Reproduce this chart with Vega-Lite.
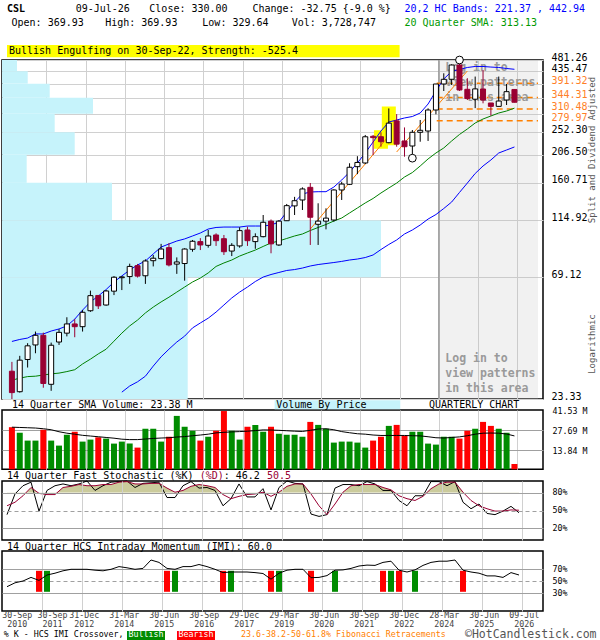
{
  "$schema": "https://vega.github.io/schema/vega-lite/v6.json",
  "background": "#ffffff",
  "padding": {"left": 0, "top": 3, "right": 0, "bottom": 0},
  "bounds": "flush",
  "spacing": 11,
  "config": {
    "view": {"stroke": "#000000", "strokeWidth": 1.5},
    "font": "DejaVu Sans Mono",
    "text": {"font": "DejaVu Sans Mono", "fontSize": 10, "align": "left", "baseline": "middle", "color": "#000000"},
    "axis": {"labelFont": "DejaVu Sans Mono", "ticks": false, "domain": false, "labelOverlap": false, "labelFlush": false}
  },
  "datasets": {
    "q": [
      {"i":0,"q":"2010Q3","o":29.9,"h":32.5,"l":23.33,"c":24.7,"v":29.5,"vs":29.5,"sma":27.6,"bu":39.0,"k":43,"d":58,"imi":40.5},
      {"i":1,"q":"2010Q4","o":24.9,"h":34.3,"l":24.7,"c":33.0,"v":25.6,"vs":29.3,"sma":28.1,"bu":39.7,"k":78,"d":64,"imi":47},
      {"i":2,"q":"2011Q1","o":33.2,"h":38.4,"l":30.9,"c":37.5,"v":20.1,"vs":29.1,"sma":28.5,"bu":40.2,"k":92,"d":75,"imi":50},
      {"i":3,"q":"2011Q2","o":37.8,"h":42.6,"l":35.1,"c":41.2,"v":20.1,"vs":28.9,"sma":28.6,"bu":41.7,"k":98,"d":89,"imi":56},
      {"i":4,"q":"2011Q3","o":41.2,"h":42.2,"l":25.8,"c":26.8,"v":27.7,"vs":28.4,"sma":28.9,"bu":41.7,"k":49,"d":79,"imi":51,"cx":"bear"},
      {"i":5,"q":"2011Q4","o":26.6,"h":38.6,"l":25.1,"c":37.7,"v":20.1,"vs":27.7,"sma":29.2,"bu":42.8,"k":84,"d":77,"imi":60,"cx":"bull"},
      {"i":6,"q":"2012Q1","o":38.8,"h":43.5,"l":37.8,"c":42.3,"v":16.6,"vs":26.3,"sma":29.4,"bu":43.6,"k":92,"d":77,"imi":63},
      {"i":7,"q":"2012Q2","o":42.0,"h":48.4,"l":40.8,"c":45.6,"v":24.2,"vs":25.3,"sma":29.8,"bu":44.8,"k":95,"d":89,"imi":67},
      {"i":8,"q":"2012Q3","o":45.6,"h":47.6,"l":40.5,"c":44.5,"v":26.3,"vs":24.6,"sma":30.3,"bu":47.6,"k":92,"d":91,"imi":69.5},
      {"i":9,"q":"2012Q4","o":44.5,"h":51.6,"l":42.6,"c":50.6,"v":19.4,"vs":23.8,"sma":31.9,"bu":51.6,"k":95,"d":94,"imi":69.5},
      {"i":10,"q":"2013Q1","o":51.3,"h":61.4,"l":50.8,"c":58.7,"v":20.8,"vs":23.3,"sma":33.3,"bu":55.5,"k":100,"d":92,"imi":69.5},
      {"i":11,"q":"2013Q2","o":58.8,"h":59.0,"l":52.1,"c":53.6,"v":22.4,"vs":22.8,"sma":34.9,"bu":58.5,"k":84,"d":92,"imi":68},
      {"i":12,"q":"2013Q3","o":54.0,"h":61.7,"l":53.7,"c":61.2,"v":21.5,"vs":22.3,"sma":36.4,"bu":62.0,"k":92,"d":94,"imi":67},
      {"i":13,"q":"2013Q4","o":61.1,"h":69.9,"l":59.0,"c":69.2,"v":18.0,"vs":21.8,"sma":39.1,"bu":66.3,"k":98,"d":94,"imi":69.5},
      {"i":14,"q":"2014Q1","o":68.9,"h":69.9,"l":61.7,"c":69.4,"v":19.4,"vs":21.1,"sma":42.0,"bu":70.0,"bl":24.8,"k":99,"d":98,"imi":74},
      {"i":15,"q":"2014Q2","o":69.6,"h":78.1,"l":65.2,"c":76.2,"v":18.0,"vs":20.8,"sma":44.8,"bu":73.8,"bl":26.2,"k":100,"d":99,"imi":72},
      {"i":16,"q":"2014Q3","o":76.7,"h":77.9,"l":69.0,"c":69.9,"v":15.2,"vs":20.8,"sma":47.2,"bu":77.2,"bl":27.2,"k":89,"d":95,"imi":69.5},
      {"i":17,"q":"2014Q4","o":70.1,"h":81.2,"l":65.2,"c":80.0,"v":28.4,"vs":21.2,"sma":50.3,"bu":80.0,"bl":28.6,"k":96,"d":95,"imi":71},
      {"i":18,"q":"2015Q1","o":80.2,"h":84.4,"l":76.2,"c":82.0,"v":28.4,"vs":21.6,"sma":53.0,"bu":85.2,"bl":31.3,"k":97,"d":96,"imi":85},
      {"i":19,"q":"2015Q2","o":81.7,"h":93.2,"l":81.2,"c":89.0,"v":19.4,"vs":21.9,"sma":55.5,"bu":90.6,"bl":34.0,"k":98,"d":96,"imi":81},
      {"i":20,"q":"2015Q3","o":90.1,"h":93.8,"l":76.2,"c":77.2,"v":22.8,"vs":22.1,"sma":57.9,"bu":93.1,"bl":36.4,"k":72,"d":88,"imi":71,"cx":"bear"},
      {"i":21,"q":"2015Q4","o":77.8,"h":82.6,"l":71.3,"c":79.3,"v":37.4,"vs":22.6,"sma":60.6,"bu":95.6,"bl":38.8,"k":72,"d":81,"imi":69.5,"cx":"bull"},
      {"i":22,"q":"2016Q1","o":78.2,"h":89.6,"l":67.1,"c":89.0,"v":29.8,"vs":22.9,"sma":63.4,"bu":97.4,"bl":40.9,"k":92,"d":84,"imi":74},
      {"i":23,"q":"2016Q2","o":88.8,"h":96.5,"l":86.9,"c":95.4,"v":27.0,"vs":23.5,"sma":66.3,"bu":100.0,"bl":44.0,"k":99,"d":91,"imi":74},
      {"i":24,"q":"2016Q3","o":95.1,"h":98.1,"l":88.2,"c":92.3,"v":20.1,"vs":24.0,"sma":68.7,"bu":102.7,"bl":46.0,"k":88,"d":94,"imi":77.5},
      {"i":25,"q":"2016Q4","o":92.0,"h":105.5,"l":90.1,"c":100.0,"v":22.8,"vs":24.6,"sma":71.9,"bu":106.4,"bl":48.0,"k":89,"d":92,"imi":74},
      {"i":26,"q":"2017Q1","o":100.9,"h":102.4,"l":91.5,"c":95.9,"v":27.0,"vs":25.5,"sma":76.2,"bu":107.9,"bl":50.7,"k":84,"d":89,"imi":69.5},
      {"i":27,"q":"2017Q2","o":97.6,"h":100.9,"l":84.4,"c":86.9,"v":40.8,"vs":25.9,"sma":78.6,"bu":108.3,"bl":54.0,"k":58,"d":77,"imi":64,"cx":"bear"},
      {"i":28,"q":"2017Q3","o":87.4,"h":93.8,"l":83.6,"c":92.0,"v":27.0,"vs":26.2,"sma":80.7,"bu":108.3,"bl":57.5,"k":70,"d":70,"imi":65,"cx":"bull"},
      {"i":29,"q":"2017Q4","o":91.5,"h":108.1,"l":90.1,"c":104.9,"v":20.8,"vs":26.4,"sma":83.6,"bu":108.3,"bl":60.6,"k":95,"d":74,"imi":65},
      {"i":30,"q":"2018Q1","o":105.5,"h":108.7,"l":91.5,"c":95.9,"v":29.8,"vs":26.7,"sma":85.9,"bu":109.3,"bl":63.4,"k":73,"d":77,"imi":65},
      {"i":31,"q":"2018Q2","o":95.1,"h":102.4,"l":89.2,"c":99.4,"v":31.1,"vs":27.1,"sma":88.2,"bu":109.3,"bl":66.6,"k":73,"d":78,"imi":64},
      {"i":32,"q":"2018Q3","o":99.4,"h":120.6,"l":98.8,"c":113.0,"v":26.3,"vs":27.6,"sma":91.1,"bu":109.3,"bl":69.3,"k":87,"d":81,"imi":62.5},
      {"i":33,"q":"2018Q4","o":114.2,"h":115.9,"l":85.7,"c":93.2,"v":29.8,"vs":27.5,"sma":94.0,"bu":110.3,"bl":70.9,"k":51,"d":74,"imi":53,"cx":"bear"},
      {"i":34,"q":"2019Q1","o":92.3,"h":115.3,"l":91.5,"c":114.2,"v":24.9,"vs":27.3,"sma":95.6,"bu":113.2,"bl":72.2,"k":89,"d":81,"imi":63,"cx":"bull"},
      {"i":35,"q":"2019Q2","o":114.6,"h":133.1,"l":114.6,"c":131.1,"v":24.2,"vs":27.0,"sma":97.8,"bu":123.8,"bl":73.5,"k":100,"d":91,"imi":68},
      {"i":36,"q":"2019Q3","o":130.8,"h":141.8,"l":120.6,"c":137.0,"v":24.2,"vs":26.7,"sma":100.0,"bu":135.4,"bl":74.1,"k":96,"d":95,"imi":69.5},
      {"i":37,"q":"2019Q4","o":137.9,"h":154.4,"l":126.1,"c":152.2,"v":22.8,"vs":26.5,"sma":101.8,"bu":145.5,"bl":75.1,"k":95,"d":95,"imi":69.5},
      {"i":38,"q":"2020Q1","o":154.4,"h":160.5,"l":92.3,"c":118.2,"v":33.2,"vs":27.3,"sma":105.0,"bu":148.1,"bl":76.5,"k":44,"d":78,"imi":55.5,"cx":"bear"},
      {"i":39,"q":"2020Q2","o":111.0,"h":133.9,"l":92.3,"c":114.2,"v":31.1,"vs":28.2,"sma":107.9,"bu":148.5,"bl":77.5,"k":40,"d":58,"imi":56},
      {"i":40,"q":"2020Q3","o":114.2,"h":128.0,"l":106.1,"c":117.3,"v":28.4,"vs":28.4,"sma":110.8,"bu":148.5,"bl":78.2,"k":43,"d":43,"imi":59},
      {"i":41,"q":"2020Q4","o":115.3,"h":151.8,"l":113.6,"c":150.8,"v":18.7,"vs":27.7,"sma":114.3,"bu":154.8,"bl":78.9,"k":88,"d":61,"imi":68,"cx":"bull"},
      {"i":42,"q":"2021Q1","o":150.8,"h":162.3,"l":137.9,"c":159.0,"v":19.4,"vs":26.4,"sma":117.4,"bu":164.8,"bl":79.7,"k":94,"d":81,"imi":68.5},
      {"i":43,"q":"2021Q2","o":158.6,"h":191.4,"l":157.6,"c":184.7,"v":19.4,"vs":25.6,"sma":122.8,"bu":177.0,"bl":80.7,"k":94,"d":92,"imi":71},
      {"i":44,"q":"2021Q3","o":185.7,"h":203.9,"l":173.7,"c":192.8,"v":18.7,"vs":24.9,"sma":128.4,"bu":191.9,"bl":81.4,"k":92,"d":94,"imi":75},
      {"i":45,"q":"2021Q4","o":191.9,"h":246.4,"l":190.0,"c":242.5,"v":15.2,"vs":24.6,"sma":134.3,"bu":209.8,"bl":82.5,"k":99,"d":94,"imi":76.5},
      {"i":46,"q":"2022Q1","o":243.5,"h":246.4,"l":206.1,"c":240.6,"v":20.1,"vs":24.0,"sma":139.8,"bu":231.4,"bl":84.4,"k":95,"d":94,"imi":76},
      {"i":47,"q":"2022Q2","o":242.6,"h":252.4,"l":221.9,"c":232.0,"v":22.8,"vs":23.7,"sma":146.8,"bu":255.3,"bl":88.6,"k":84,"d":89,"imi":81,"cx":"bear"},
      {"i":48,"q":"2022Q3","o":230.0,"h":312.3,"l":228.8,"c":273.9,"v":30.4,"vs":23.7,"sma":153.5,"bu":276.6,"bl":92.7,"k":84,"d":85,"imi":83,"cx":"bull"},
      {"i":49,"q":"2022Q4","o":279.6,"h":296.8,"l":221.9,"c":227.0,"v":31.1,"vs":23.7,"sma":160.4,"bu":281.7,"bl":96.5,"k":67,"d":75,"imi":68,"cx":"bear"},
      {"i":50,"q":"2023Q1","o":233.6,"h":263.6,"l":203.0,"c":221.9,"v":23.5,"vs":23.7,"sma":169.3,"bu":286.8,"bl":101.8,"k":58,"d":70,"imi":65},
      {"i":51,"q":"2023Q2","o":223.3,"h":257.6,"l":200.3,"c":252.4,"v":26.3,"vs":23.5,"sma":176.2,"bu":290.6,"bl":105.5,"k":75,"d":67,"imi":68.5,"cx":"bull"},
      {"i":52,"q":"2023Q3","o":252.4,"h":281.7,"l":232.0,"c":256.9,"v":26.3,"vs":23.4,"sma":186.8,"bu":299.8,"bl":110.3,"k":75,"d":74,"imi":76},
      {"i":53,"q":"2023Q4","o":255.3,"h":312.7,"l":233.6,"c":308.0,"v":18.0,"vs":22.8,"sma":198.9,"bu":324.9,"bl":116.3,"k":99,"d":87,"imi":81},
      {"i":54,"q":"2024Q1","o":308.0,"h":388.4,"l":296.3,"c":388.4,"v":17.3,"vs":22.1,"sma":209.8,"bu":364.9,"bl":121.1,"k":99,"d":95,"imi":83},
      {"i":55,"q":"2024Q2","o":388.4,"h":427.4,"l":364.9,"c":405.1,"v":22.8,"vs":21.9,"sma":219.4,"bu":406.2,"bl":127.8,"k":92,"d":98,"imi":83},
      {"i":56,"q":"2024Q3","o":405.1,"h":463.1,"l":385.0,"c":460.2,"v":22.8,"vs":22.3,"sma":233.5,"bu":434.5,"bl":135.4,"k":99,"d":98,"imi":85},
      {"i":57,"q":"2024Q4","o":460.2,"h":481.26,"l":364.9,"c":368.2,"v":21.5,"vs":22.7,"sma":247.5,"bu":442.2,"bl":147.5,"k":64,"d":81,"imi":68,"cx":"bear"},
      {"i":58,"q":"2025Q1","o":370.5,"h":409.2,"l":336.7,"c":341.1,"v":27.0,"vs":23.5,"sma":259.9,"bu":450.1,"bl":160.4,"k":53,"d":67,"imi":65},
      {"i":59,"q":"2025Q2","o":339.1,"h":415.1,"l":313.2,"c":371.8,"v":28.4,"vs":24.6,"sma":274.2,"bu":454.2,"bl":174.7,"k":61,"d":58,"imi":63},
      {"i":60,"q":"2025Q3","o":371.5,"h":440.2,"l":326.9,"c":336.7,"v":33.2,"vs":25.3,"sma":284.2,"bu":454.2,"bl":186.8,"k":45,"d":53,"imi":58.5},
      {"i":61,"q":"2025Q4","o":327.9,"h":327.9,"l":292.7,"c":318.1,"v":30.4,"vs":25.4,"sma":291.9,"bu":451.9,"bl":197.1,"k":43,"d":49,"imi":58.5},
      {"i":62,"q":"2026Q1","o":318.1,"h":415.1,"l":318.1,"c":333.7,"v":28.4,"vs":25.3,"sma":299.8,"bu":450.1,"bl":209.8,"k":49,"d":49,"imi":56},
      {"i":63,"q":"2026Q2","o":336.7,"h":388.4,"l":322.0,"c":362.75,"v":25.6,"vs":24.7,"sma":305.2,"bu":446.1,"bl":215.5,"k":57,"d":51,"imi":64},
      {"i":64,"q":"2026Q3","o":369.93,"h":369.93,"l":329.64,"c":330.0,"v":3.73,"vs":23.38,"sma":313.13,"bu":442.94,"bl":221.37,"k":46.2,"d":50.5,"imi":60}
    ],
    "vbp": [
      {"lo":23.33,"hi":69.12,"vol":290.4},
      {"lo":69.12,"hi":114.92,"vol":592.6},
      {"lo":114.92,"hi":160.71,"vol":172.0},
      {"lo":160.71,"hi":206.5,"vol":38.6},
      {"lo":206.5,"hi":252.3,"vol":113.7},
      {"lo":252.3,"hi":298.09,"vol":82.4},
      {"lo":298.09,"hi":343.88,"vol":142.3},
      {"lo":343.88,"hi":389.68,"vol":74.6},
      {"lo":389.68,"hi":435.47,"vol":40.2},
      {"lo":435.47,"hi":481.26,"vol":23.5}
    ],
    "fib": [
      {"pct":"23.6","p":391.32},
      {"pct":"38.2","p":344.31},
      {"pct":"50","p":310.48},
      {"pct":"61.8","p":279.97}
    ],
    "trend": [
      {"line":"a","i":38,"p":106.4},
      {"line":"a","i":48,"p":244.2},
      {"line":"b","i":49,"p":211.7},
      {"line":"b","i":58,"p":436.3}
    ],
    "swing": [
      {"i":51,"p":200.3},
      {"i":57,"p":481.26}
    ]
  },
  "vconcat": [
    {
      "width": 541,
      "height": 339,
      "resolve": {"scale": {"x": "independent"}},
      "layer": [
        {
          "data": {"name": "vbp"},
          "mark": {"type": "rect", "color": "#c6f3fb", "opacity": 1},
          "encoding": {
            "x": {"field": "vol", "type": "quantitative", "scale": {"domain": [0, 846], "nice": false, "zero": false}, "axis": null},
            "x2": {"datum": 0},
            "y": {"field": "lo", "type": "quantitative", "scale": {"type": "log", "domain": [23.33, 481.26], "nice": false}},
            "y2": {"field": "hi"}
          }
        },
        {
          "layer": [
            {
              "data": {"values": [{}]},
              "mark": {"type": "rect", "color": "#b8b8b8", "opacity": 0.2},
              "encoding": {"x": {"datum": 54.375}, "x2": {"datum": 67}, "y": {"datum": 23.33}, "y2": {"datum": 481.26}}
            },
            {
              "data": {"values": [{}]},
              "mark": {"type": "rule", "color": "#9a9a9a", "strokeWidth": 1.5},
              "encoding": {"x": {"datum": 54.375}}
            },
            {
              "data": {"name": "q"},
              "transform": [{"filter": {"field": "i", "oneOf": [47, 48]}}],
              "mark": {"type": "bar", "color": "#ffff00", "size": 10, "stroke": "#ffff00", "strokeWidth": 4, "opacity": 1},
              "encoding": {"x": {"field": "i", "type": "quantitative"}, "y": {"field": "l", "type": "quantitative"}, "y2": {"field": "h"}}
            },
            {
              "data": {"name": "fib"},
              "mark": {"type": "rule", "color": "#ff8000", "strokeDash": [6, 4], "strokeWidth": 1.5},
              "encoding": {"x": {"datum": 54.1}, "x2": {"datum": 67}, "y": {"field": "p", "type": "quantitative"}}
            },
            {
              "data": {"values": [{}]},
              "mark": {"type": "text", "text": ["Log in to", "view patterns", "in this area"], "baseline": "top", "lineHeight": 15, "fontSize": 11.5, "fontWeight": "bold", "color": "#9a9a9a"},
              "encoding": {"x": {"datum": 55.2}, "y": {"datum": 471.5}}
            },
            {
              "data": {"values": [{}]},
              "mark": {"type": "text", "text": ["Log in to", "view patterns", "in this area"], "baseline": "top", "lineHeight": 15, "fontSize": 11.5, "fontWeight": "bold", "color": "#9a9a9a"},
              "encoding": {"x": {"datum": 55.2}, "y": {"datum": 35.3}}
            },
            {
              "data": {"name": "q"},
              "mark": {"type": "line", "color": "#0000ff", "strokeWidth": 1},
              "encoding": {"x": {"field": "i", "type": "quantitative"}, "y": {"field": "bu", "type": "quantitative"}}
            },
            {
              "data": {"name": "q"},
              "mark": {"type": "line", "color": "#0000ff", "strokeWidth": 1},
              "encoding": {"x": {"field": "i", "type": "quantitative"}, "y": {"field": "bl", "type": "quantitative"}}
            },
            {
              "data": {"name": "q"},
              "mark": {"type": "line", "color": "#008000", "strokeWidth": 1},
              "encoding": {"x": {"field": "i", "type": "quantitative"}, "y": {"field": "sma", "type": "quantitative"}}
            },
            {
              "data": {"name": "trend"},
              "mark": {"type": "line", "color": "#ff8000", "strokeWidth": 1},
              "encoding": {"x": {"field": "i", "type": "quantitative"}, "y": {"field": "p", "type": "quantitative"}, "detail": {"field": "line"}}
            },
            {
              "data": {"name": "q"},
              "mark": {"type": "rule", "strokeWidth": 1},
              "encoding": {
                "x": {
                  "field": "i", "type": "quantitative",
                  "scale": {"domain": [-0.625, 67], "nice": false, "zero": false},
                  "axis": {"title": null, "tickCount": 100, "values": [4.375, 9.375, 14.375, 19.375, 24.375, 29.375, 34.375, 39.375, 44.375, 49.375, 54.375, 59.375, 64.375], "labels": false, "ticks": false, "domain": false, "grid": true, "gridColor": "#d0d0d0"}
                },
                "y": {
                  "field": "l", "type": "quantitative",
                  "scale": {"type": "log", "domain": [23.33, 481.26], "nice": false},
                  "axis": {
                    "orient": "right", "title": null, "tickCount": 100,
                    "values": [23.33, 69.12, 114.92, 160.71, 206.5, 252.3, 298.09, 343.88, 389.68, 435.47, 481.26, 279.97, 310.48, 344.31, 391.32],
                    "labelExpr": "indexof([298.09, 343.88, 389.68], datum.value) >= 0 ? '' : format(datum.value, '.2f')",
                    "labelColor": {"condition": {"test": "indexof([279.97, 310.48, 344.31, 391.32], datum.value) >= 0", "value": "#ff7f27"}, "value": "#000000"},
                    "gridOpacity": {"condition": {"test": "indexof([279.97, 310.48, 344.31, 391.32], datum.value) >= 0", "value": 0}, "value": 1},
                    "grid": true, "gridColor": "#d0d0d0", "ticks": false, "domain": false,
                    "labelOverlap": false, "labelFlush": false, "labelBaseline": "alphabetic",
                    "labelPadding": 8, "labelFontSize": 10
                  }
                },
                "y2": {"field": "h"},
                "color": {"condition": {"test": "datum.c < datum.o", "value": "#990033"}, "value": "#000000"}
              }
            },
            {
              "data": {"name": "q"},
              "mark": {"type": "bar", "size": 5, "strokeWidth": 1, "opacity": 1},
              "encoding": {
                "x": {"field": "i", "type": "quantitative"},
                "y": {"field": "o", "type": "quantitative"},
                "y2": {"field": "c"},
                "fill": {"condition": {"test": "datum.c < datum.o", "value": "#990033"}, "value": "#ffffff"},
                "stroke": {"condition": {"test": "datum.c < datum.o", "value": "#990033"}, "value": "#000000"}
              }
            },
            {
              "data": {"name": "swing"},
              "mark": {"type": "point", "shape": "circle", "size": 60, "filled": true, "fill": "#ffffff", "stroke": "#000000", "strokeWidth": 1, "opacity": 1},
              "encoding": {"x": {"field": "i", "type": "quantitative"}, "y": {"field": "p", "type": "quantitative"}}
            },
            {
              "data": {"values": [{}]},
              "mark": {"type": "text", "text": "CSL", "fontWeight": "bold"},
              "encoding": {"x": {"datum": -0.625}, "y": {"datum": 758.8}}
            },
            {
              "data": {"values": [{}]},
              "mark": {"type": "text", "text": "09-Jul-26"},
              "encoding": {"x": {"datum": 8.125}, "y": {"datum": 758.8}}
            },
            {
              "data": {"values": [{}]},
              "mark": {"type": "text", "text": "Close: 330.00"},
              "encoding": {"x": {"datum": 17.5}, "y": {"datum": 758.8}}
            },
            {
              "data": {"values": [{}]},
              "mark": {"type": "text", "text": "Change: -32.75 {-9.0 %}"},
              "encoding": {"x": {"datum": 30.625}, "y": {"datum": 758.8}}
            },
            {
              "data": {"values": [{}]},
              "mark": {"type": "text", "text": "20,2 HC Bands: 221.37 , 442.94", "color": "#0000ff"},
              "encoding": {"x": {"datum": 50}, "y": {"datum": 758.8}}
            },
            {
              "data": {"values": [{}]},
              "mark": {"type": "text", "text": "Open: 369.93"},
              "encoding": {"x": {"datum": -0.05}, "y": {"datum": 667.8}}
            },
            {
              "data": {"values": [{}]},
              "mark": {"type": "text", "text": "High: 369.93"},
              "encoding": {"x": {"datum": 11.875}, "y": {"datum": 667.8}}
            },
            {
              "data": {"values": [{}]},
              "mark": {"type": "text", "text": "Low: 329.64"},
              "encoding": {"x": {"datum": 24.25}, "y": {"datum": 667.8}}
            },
            {
              "data": {"values": [{}]},
              "mark": {"type": "text", "text": "Vol: 3,728,747"},
              "encoding": {"x": {"datum": 35.625}, "y": {"datum": 667.8}}
            },
            {
              "data": {"values": [{}]},
              "mark": {"type": "text", "text": "20 Quarter SMA: 313.13", "color": "#009900"},
              "encoding": {"x": {"datum": 50}, "y": {"datum": 667.8}}
            },
            {
              "data": {"values": [{}]},
              "mark": {"type": "rect", "color": "#ffff00", "opacity": 1},
              "encoding": {"x": {"datum": -0.625}, "x2": {"datum": 49.375}, "y": {"datum": 493.0}, "y2": {"datum": 550.2}}
            },
            {
              "data": {"values": [{}]},
              "mark": {"type": "text", "text": "Bullish Engulfing on 30-Sep-22, Strength: -525.4"},
              "encoding": {"x": {"datum": -0.375}, "y": {"datum": 520.6}}
            },
            {
              "data": {"values": [{}]},
              "mark": {"type": "text", "text": "Split and Dividend Adjusted", "angle": 270, "align": "center", "fontSize": 9, "color": "#555555"},
              "encoding": {"x": {"datum": 73.9}, "y": {"datum": 215.5}}
            },
            {
              "data": {"values": [{}]},
              "mark": {"type": "text", "text": "Logarithmic", "angle": 270, "align": "center", "fontSize": 9, "color": "#555555"},
              "encoding": {"x": {"datum": 73.9}, "y": {"datum": 38.1}}
            }
          ]
        }
      ]
    },
    {
      "width": 541,
      "height": 59.3,
      "layer": [
        {
          "data": {"name": "q"},
          "mark": {"type": "bar", "size": 6, "opacity": 1},
          "encoding": {
            "x": {
              "field": "i", "type": "quantitative",
              "scale": {"domain": [-0.625, 67], "nice": false, "zero": false},
              "axis": {"title": null, "tickCount": 100, "values": [4.375, 9.375, 14.375, 19.375, 24.375, 29.375, 34.375, 39.375, 44.375, 49.375, 54.375, 59.375, 64.375], "labels": false, "ticks": false, "domain": false, "grid": true, "gridColor": "#d0d0d0"}
            },
            "y": {
              "field": "v", "type": "quantitative",
              "scale": {"domain": [0, 41.53], "nice": false},
              "axis": {
                "orient": "right", "title": null, "tickCount": 100, "values": [13.84, 27.69, 41.53],
                "labelExpr": "format(datum.value, '.2f') + ' M'",
                "gridOpacity": {"condition": {"test": "datum.value > 40", "value": 0}, "value": 1},
                "grid": true, "gridColor": "#a0a0a0", "ticks": false, "domain": false,
                "labelOverlap": false, "labelFlush": false,
                "labelBaseline": "middle", "labelOffset": 1.5, "labelPadding": 9, "labelFontSize": 8.3
              }
            },
            "color": {"condition": {"test": "datum.c < datum.o", "value": "#ff0000"}, "value": "#008c00"}
          }
        },
        {
          "data": {"name": "q"},
          "mark": {"type": "line", "color": "#000000", "strokeWidth": 1},
          "encoding": {"x": {"field": "i", "type": "quantitative"}, "y": {"field": "vs", "type": "quantitative"}}
        },
        {
          "data": {"values": [{}]},
          "mark": {"type": "text", "text": "14 Quarter SMA Volume: 23.38 M"},
          "encoding": {"x": {"datum": 0}, "y": {"datum": 44.8}}
        },
        {
          "data": {"values": [{}]},
          "mark": {"type": "rect", "color": "#c6f3fb", "opacity": 1},
          "encoding": {"x": {"datum": 33.46}, "x2": {"datum": 49.46}, "y": {"datum": 42.0}, "y2": {"datum": 48.4}}
        },
        {
          "data": {"values": [{}]},
          "mark": {"type": "text", "text": "Volume By Price"},
          "encoding": {"x": {"datum": 33.66}, "y": {"datum": 45.0}}
        },
        {
          "data": {"values": [{}]},
          "mark": {"type": "text", "text": "QUARTERLY CHART"},
          "encoding": {"x": {"datum": 53.125}, "y": {"datum": 45.0}}
        }
      ]
    },
    {
      "width": 541,
      "height": 59,
      "layer": [
        {
          "data": {"name": "q"},
          "mark": {"type": "area", "color": "#cbcb9c", "opacity": 1},
          "encoding": {"x": {"field": "i", "type": "quantitative"}, "y": {"field": "d", "type": "quantitative"}, "y2": {"datum": 80}}
        },
        {
          "data": {"values": [{}]},
          "mark": {"type": "rect", "color": "#ffffff", "opacity": 1},
          "encoding": {"x": {"datum": -0.52}, "x2": {"datum": 66.9}, "y": {"datum": 1.5}, "y2": {"datum": 80}}
        },
        {
          "data": {"name": "q"},
          "mark": {"type": "line", "color": "#000000", "strokeWidth": 1},
          "encoding": {
            "x": {
              "field": "i", "type": "quantitative",
              "scale": {"domain": [-0.625, 67], "nice": false, "zero": false},
              "axis": {"title": null, "tickCount": 100, "values": [4.375, 9.375, 14.375, 19.375, 24.375, 29.375, 34.375, 39.375, 44.375, 49.375, 54.375, 59.375, 64.375], "labels": false, "ticks": false, "domain": false, "grid": true, "gridColor": "#d0d0d0", "zindex": 1}
            },
            "y": {
              "field": "k", "type": "quantitative",
              "scale": {"domain": [0, 100], "nice": false},
              "axis": {
                "orient": "right", "title": null, "tickCount": 100, "values": [20, 50, 80],
                "labelExpr": "datum.value + '%'",
                "grid": true, "gridColor": "#a0a0a0",
                "gridDash": {"condition": {"test": "datum.value == 50", "value": [4, 3]}, "value": []},
                "ticks": false, "domain": false, "zindex": 1,
                "labelOverlap": false, "labelFlush": false,
                "labelBaseline": "middle", "labelPadding": 9, "labelFontSize": 8.3
              }
            }
          }
        },
        {
          "data": {"name": "q"},
          "mark": {"type": "line", "color": "#990033", "strokeWidth": 1},
          "encoding": {"x": {"field": "i", "type": "quantitative"}, "y": {"field": "d", "type": "quantitative"}}
        },
        {
          "data": {"values": [{}]},
          "mark": {"type": "text", "text": "14 Quarter Fast Stochastic (%K)"},
          "encoding": {"x": {"datum": 0}, "y": {"datum": 108.1}}
        },
        {
          "data": {"values": [{}]},
          "mark": {"type": "text", "text": "(%D)", "color": "#990033"},
          "encoding": {"x": {"datum": 24.08}, "y": {"datum": 108.1}}
        },
        {
          "data": {"values": [{}]},
          "mark": {"type": "text", "text": ": 46.2"},
          "encoding": {"x": {"datum": 27.08}, "y": {"datum": 108.1}}
        },
        {
          "data": {"values": [{}]},
          "mark": {"type": "text", "text": "50.5", "color": "#990033"},
          "encoding": {"x": {"datum": 32.5}, "y": {"datum": 108.1}}
        }
      ]
    },
    {
      "width": 541,
      "height": 60,
      "layer": [
        {
          "data": {"name": "q"},
          "transform": [{"filter": "isValid(datum.cx)"}],
          "mark": {"type": "rule", "strokeWidth": 6},
          "encoding": {
            "x": {"field": "i", "type": "quantitative"},
            "y": {"datum": 67},
            "y2": {"datum": 32},
            "color": {"field": "cx", "type": "nominal", "scale": {"domain": ["bull", "bear"], "range": ["#008c00", "#ff0000"]}, "legend": null}
          }
        },
        {
          "data": {"name": "q"},
          "mark": {"type": "line", "color": "#000000", "strokeWidth": 1},
          "encoding": {
            "x": {
              "field": "i", "type": "quantitative",
              "scale": {"domain": [-0.625, 67], "nice": false, "zero": false},
              "axis": {
                "title": null, "tickCount": 100,
                "values": [1.0, 4.375, 5.4, 9.375, 14.375, 19.375, 24.375, 29.375, 34.375, 39.375, 44.375, 49.375, 54.375, 59.375, 64.375],
                "labelExpr": "datum.value < 2 ? ['30-Sep', '2010'] : datum.value < 5 ? '' : datum.value < 6 ? ['30-Sep', '2011'] : [['31-Dec', '2012'], ['31-Mar', '2014'], ['30-Jun', '2015'], ['30-Sep', '2016'], ['29-Dec', '2017'], ['29-Mar', '2019'], ['30-Jun', '2020'], ['30-Sep', '2021'], ['30-Dec', '2022'], ['28-Mar', '2024'], ['30-Jun', '2025'], ['09-Jul', '2026']][round((datum.value - 9.375) / 5)]",
                "gridOpacity": {"condition": {"test": "datum.value == 1.0 || datum.value == 5.4", "value": 0}, "value": 1},
                "grid": true, "gridColor": "#d0d0d0", "ticks": false, "domain": false,
                "labelOverlap": false, "labelFlush": false,
                "labelFontSize": 8.3, "labelColor": "#444444", "labelPadding": -0.5, "labelOffset": 1.7,
                "labelBaseline": "top", "labelLineHeight": 8.5, "labelAlign": "center"
              }
            },
            "y": {
              "field": "imi", "type": "quantitative",
              "scale": {"domain": [0, 100], "nice": false},
              "axis": {
                "orient": "right", "title": null, "tickCount": 100, "values": [30, 50, 70],
                "labelExpr": "datum.value + '%'",
                "grid": true, "gridColor": "#a0a0a0",
                "gridDash": {"condition": {"test": "datum.value == 50", "value": [4, 3]}, "value": []},
                "ticks": false, "domain": false,
                "labelOverlap": false, "labelFlush": false,
                "labelBaseline": "middle", "labelPadding": 9, "labelFontSize": 8.3
              }
            }
          }
        },
        {
          "data": {"values": [{}]},
          "mark": {"type": "text", "text": "14 Quarter HCS Intraday Momentum (IMI): 60.0"},
          "encoding": {"x": {"datum": 0}, "y": {"datum": 106.7}}
        },
        {
          "data": {"values": [{}]},
          "mark": {"type": "text", "text": "% K - HCS IMI Crossover,", "fontSize": 8.3},
          "encoding": {"x": {"datum": -0.41}, "y": {"datum": -40.5}}
        },
        {
          "data": {"values": [{}]},
          "mark": {"type": "rect", "color": "#008c00", "opacity": 1},
          "encoding": {"x": {"datum": 15}, "x2": {"datum": 19.75}, "y": {"datum": -33.2}, "y2": {"datum": -48.3}}
        },
        {
          "data": {"values": [{}]},
          "mark": {"type": "text", "text": "Bullish", "fontSize": 8.3, "align": "center", "color": "#ffffff"},
          "encoding": {"x": {"datum": 17.375}, "y": {"datum": -40.5}}
        },
        {
          "data": {"values": [{}]},
          "mark": {"type": "rect", "color": "#ff0000", "opacity": 1},
          "encoding": {"x": {"datum": 21.25}, "x2": {"datum": 26}, "y": {"datum": -33.2}, "y2": {"datum": -48.3}}
        },
        {
          "data": {"values": [{}]},
          "mark": {"type": "text", "text": "Bearish", "fontSize": 8.3, "align": "center", "color": "#ffffff"},
          "encoding": {"x": {"datum": 23.625}, "y": {"datum": -40.5}}
        },
        {
          "data": {"values": [{}]},
          "mark": {"type": "text", "text": "23.6-38.2-50-61.8% Fibonacci Retracements", "fontSize": 8.3, "color": "#ff8000"},
          "encoding": {"x": {"datum": 29.25}, "y": {"datum": -40.5}}
        },
        {
          "data": {"values": [{}]},
          "mark": {"type": "text", "text": "©HotCandlestick.com", "fontSize": 11.5, "color": "#555555"},
          "encoding": {"x": {"datum": 57.25}, "y": {"datum": -40.5}}
        }
      ]
    }
  ]
}
